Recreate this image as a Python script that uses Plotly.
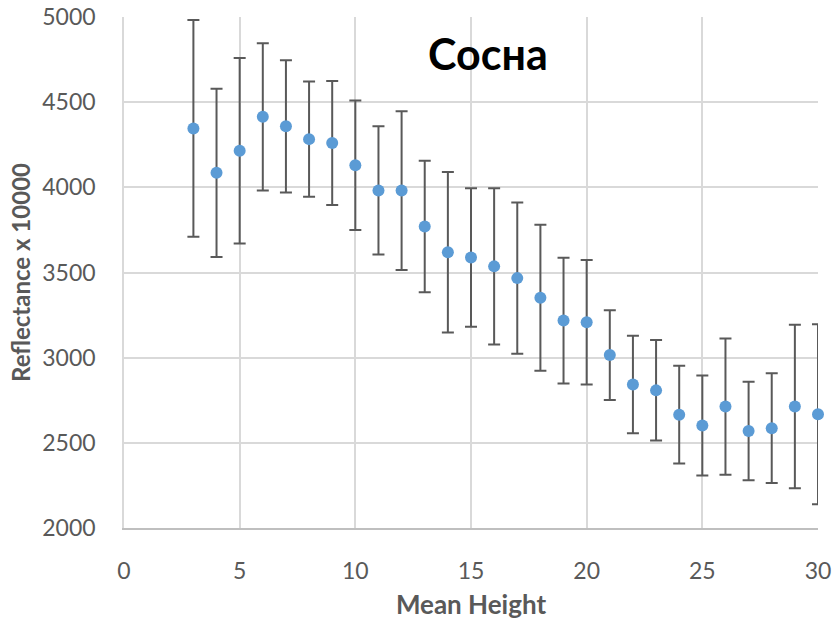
import plotly.graph_objects as go

# Mean height classes and reflectance statistics (x 10000)
heights = list(range(3, 31))
reflectance_mean = [4346, 4085, 4215, 4414, 4358, 4283, 4260, 4130, 3982, 3981,
                    3770, 3619, 3588, 3536, 3467, 3352, 3218, 3208, 3015, 2842,
                    2808, 2665, 2602, 2713, 2569, 2586, 2713, 2668]
reflectance_std = [636, 494, 545, 432, 388, 338, 364, 380, 377, 466,
                   386, 471, 407, 459, 444, 429, 369, 366, 264, 286,
                   295, 287, 294, 400, 289, 322, 480, 528]

x_ticks = [0, 5, 10, 15, 20, 25, 30]
y_ticks = [2000, 2500, 3000, 3500, 4000, 4500, 5000]

FONT = "Lato, 'Noto Sans', 'DejaVu Sans', sans-serif"
GREY_TEXT = "#595959"
GRID = "#d9d9d9"

fig = go.Figure()
fig.add_trace(go.Scatter(
    x=heights,
    y=reflectance_mean,
    mode="markers",
    marker=dict(color="#5B9BD5", size=12, line=dict(width=0)),
    error_y=dict(type="data", array=reflectance_std, visible=True,
                 color="#595959", thickness=2, width=6),
    showlegend=False,
    cliponaxis=False,
))

fig.add_annotation(
    text="<b>Сосна</b>", xref="paper", yref="paper",
    x=0.524, y=0.928, xanchor="center", yanchor="middle",
    showarrow=False, font=dict(family=FONT, size=43, color="#000000"),
)

fig.update_layout(
    width=833, height=620,
    margin=dict(l=124, r=15, t=17, b=92),
    plot_bgcolor="white", paper_bgcolor="white",
    font=dict(family=FONT, color=GREY_TEXT),
)

fig.update_xaxes(
    range=[0, 30], tickvals=x_ticks, ticktext=[str(v) for v in x_ticks],
    showgrid=True, gridcolor=GRID, gridwidth=1.5, zeroline=False,
    showline=True, linecolor="#bfbfbf", linewidth=1.5,
    ticks="", ticklabelstandoff=22, automargin=False,
    tickfont=dict(family=FONT, size=23, color=GREY_TEXT),
    title=dict(text="<b>Mean Height</b>", standoff=12,
               font=dict(family=FONT, size=26, color=GREY_TEXT)),
)
fig.update_yaxes(
    range=[2000, 5000], tickvals=y_ticks, ticktext=[str(v) for v in y_ticks],
    showgrid=True, gridcolor=GRID, gridwidth=1.5, zeroline=False,
    showline=True, linecolor=GRID, linewidth=1.5,
    ticks="", ticklabelstandoff=22, automargin=False,
    tickfont=dict(family=FONT, size=23, color=GREY_TEXT),
    title=dict(text="<b>Reflectance x 10000</b>", standoff=5,
               font=dict(family=FONT, size=24, color=GREY_TEXT)),
)

fig.write_html("out.html")
